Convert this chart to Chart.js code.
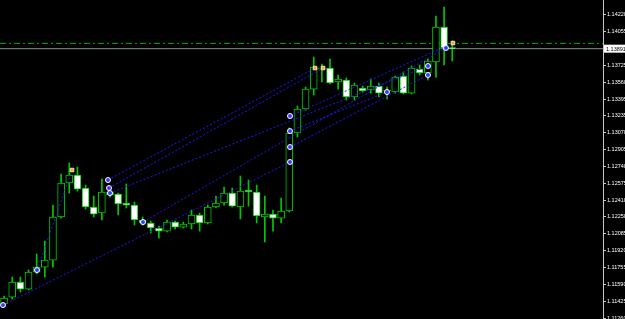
<!DOCTYPE html>
<html>
<head>
<meta charset="utf-8">
<script src="https://cdn.jsdelivr.net/npm/chart.js@4.4.0/dist/chart.umd.min.js"></script>
<style>
    html, body { margin: 0; padding: 0; background: #000; }
    #contenedor { width: 625px; height: 319px; }
</style>
</head>
<body>
<div id="contenedor"><canvas id="graficoVelas"></canvas></div>
<script>
// velas (una por barra, de izquierda a derecha)
const openP = [1.11399,1.11467,1.11614,1.11545,1.11711,1.11760,1.11828,1.12248,1.12580,1.12658,1.12531,1.12346,1.12287,1.12492,1.12473,1.12385,1.12365,1.12219,1.12190,1.12141,1.12111,1.12199,1.12150,1.12180,1.12268,1.12190,1.12346,1.12385,1.12482,1.12346,1.12512,1.12492,1.12248,1.12277,1.12238,1.12307,1.13068,1.13302,1.13497,1.13693,1.13702,1.13566,1.13585,1.13419,1.13507,1.13488,1.13527,1.13478,1.13468,1.13624,1.13458,1.13693,1.13654,1.13761,1.14102,1.13898];
const highP = [1.11477,1.11662,1.11662,1.11731,1.11887,1.12014,1.12365,1.12668,1.12775,1.12736,1.12560,1.12453,1.12619,1.12512,1.12482,1.12570,1.12394,1.12248,1.12209,1.12160,1.12219,1.12209,1.12199,1.12316,1.12287,1.12365,1.12453,1.12541,1.12531,1.12648,1.12609,1.12560,1.12453,1.12316,1.12434,1.13117,1.13331,1.13517,1.13810,1.13741,1.13790,1.13634,1.13605,1.13556,1.13527,1.13595,1.13556,1.13517,1.13624,1.13663,1.13722,1.13732,1.13790,1.14210,1.14298,1.13966];
const lowP = [1.11370,1.11448,1.11516,1.11536,1.11692,1.11662,1.11760,1.12238,1.12482,1.12502,1.12326,1.12248,1.12219,1.12443,1.12268,1.12336,1.12170,1.12170,1.12092,1.12043,1.12102,1.12131,1.12141,1.12131,1.12111,1.12180,1.12336,1.12365,1.12346,1.12229,1.12355,1.12190,1.12004,1.12111,1.12190,1.12297,1.13029,1.13292,1.13439,1.13566,1.13546,1.13497,1.13390,1.13390,1.13468,1.13458,1.13419,1.13400,1.13458,1.13449,1.13449,1.13634,1.13585,1.13614,1.13732,1.13771];
const closeP = [1.11458,1.11614,1.11545,1.11711,1.11760,1.11828,1.12248,1.12580,1.12658,1.12521,1.12346,1.12277,1.12492,1.12463,1.12375,1.12365,1.12219,1.12190,1.12141,1.12111,1.12199,1.12150,1.12180,1.12268,1.12190,1.12346,1.12385,1.12482,1.12355,1.12502,1.12492,1.12258,1.12277,1.12238,1.12307,1.13068,1.13302,1.13497,1.13712,1.13702,1.13556,1.13595,1.13419,1.13536,1.13478,1.13527,1.13458,1.13488,1.13614,1.13458,1.13702,1.13654,1.13771,1.14102,1.13898,1.13891];

// eje de precios
const tickValues = [1.14220,1.14055,1.13725,1.13560,1.13395,1.13235,1.13070,1.12905,1.12740,1.12575,1.12410,1.12250,1.12085,1.11920,1.11755,1.11590,1.11425,1.11260];
const tickLabels = ['1.14220','1.14055','1.13725','1.13560','1.13395','1.13235','1.13070','1.12905','1.12740','1.12575','1.12410','1.12250','1.12085','1.11920','1.11755','1.11590','1.11425','1.11260'];
const lastPrice = 1.13891;
const askPrice = 1.13943;

// lineas de operaciones: apertura y cierre (indice de barra, precio)
const tradeOpenIdx    = [-0.13, 4.04, 12.75, 12.88, 13.0, 17.05, 35.09, 35.09, 35.09];
const tradeOpenPrice  = [1.11389, 1.11731, 1.12609, 1.12531, 1.12482, 1.12199, 1.13234, 1.13087, 1.12931];
const tradeCloseIdx   = [35.09, 8.34, 38.16, 39.14, 52.02, 54.23, 55.09, 46.99, 52.02];
const tradeClosePrice = [1.12785, 1.12707, 1.13702, 1.13702, 1.13722, 1.13898, 1.13946, 1.13468, 1.13634];
const tradeCloseOrange = [false, true, true, true, false, false, true, false, false];

const verde = '#00c800';
const nBarras = 74;

const datasets = [];

datasets.push({
    type: 'bar',
    data: openP.map((o, i) => ({ x: i, y: [lowP[i], highP[i]] })),
    backgroundColor: verde,
    barThickness: 1,
    grouped: false,
    order: 3
});

datasets.push({
    type: 'bar',
    data: openP.map((o, i) => ({ x: i, y: [openP[i], closeP[i]] })),
    backgroundColor: openP.map((o, i) => closeP[i] > o ? '#000000' : '#ffffff'),
    borderColor: verde,
    borderWidth: 1,
    borderSkipped: false,
    barThickness: 7,
    minBarLength: 1,
    grouped: false,
    order: 2
});

for (let i = 0; i < tradeOpenIdx.length; i++) {
    const cierre = tradeCloseOrange[i] ? '#ffa040' : '#3a3aff';
    datasets.push({
        type: 'line',
        data: [
            { x: tradeOpenIdx[i], y: tradeOpenPrice[i] },
            { x: tradeCloseIdx[i], y: tradeClosePrice[i] }
        ],
        borderColor: '#1a1aff',
        borderWidth: 1,
        borderDash: [2, 2],
        pointRadius: 2.5,
        pointStyle: ['circle', tradeCloseOrange[i] ? 'rect' : 'circle'],
        pointBackgroundColor: ['#3a3aff', cierre],
        pointBorderColor: ['#ffffff', tradeCloseOrange[i] ? '#ffe0b0' : '#ffffff'],
        pointBorderWidth: 1,
        clip: false,
        order: 1
    });
}

// linea ask (verde) y precio actual (gris)
datasets.push({
    type: 'line',
    data: [{ x: -0.5, y: askPrice }, { x: nBarras - 0.5, y: askPrice }],
    borderColor: '#00b000',
    borderWidth: 1,
    borderDash: [6, 3, 2, 3],
    pointRadius: 0,
    order: 4
});
datasets.push({
    type: 'line',
    data: [{ x: -0.5, y: lastPrice }, { x: nBarras - 0.5, y: lastPrice }],
    borderColor: '#8c8c8c',
    borderWidth: 1,
    pointRadius: 0,
    order: 4
});

const etiquetaPrecio = {
    id: 'etiquetaPrecio',
    afterDraw(chart) {
        const ctx = chart.ctx;
        const y = chart.scales.y.getPixelForValue(lastPrice);
        const x = chart.chartArea.right + 1;
        ctx.save();
        ctx.fillStyle = '#ffffff';
        ctx.fillRect(x, y - 4, 625 - x, 8);
        ctx.fillStyle = '#000000';
        ctx.font = '5.5px "Liberation Sans"';
        ctx.textBaseline = 'middle';
        ctx.fillText(lastPrice.toFixed(5), x + 2, y + 0.5);
        ctx.restore();
    }
};

new Chart(document.getElementById('graficoVelas'), {
    data: { datasets: datasets },
    options: {
        responsive: true,
        maintainAspectRatio: false,
        animation: false,
        layout: { padding: 0, autoPadding: false },
        plugins: {
            legend: { display: false },
            tooltip: { enabled: false }
        },
        scales: {
            x: {
                type: 'linear',
                min: -0.5,
                max: nBarras - 0.5,
                offset: false,
                display: false
            },
            y: {
                position: 'right',
                min: 1.11253,
                max: 1.14366,
                grid: { drawOnChartArea: false, drawTicks: true, tickLength: 3, color: '#c8c8c8' },
                border: { display: true, color: '#c8c8c8', width: 1 },
                ticks: {
                    color: '#ffffff',
                    padding: 1,
                    font: { family: '"Liberation Sans"', size: 5.5 },
                    callback: (v, i) => tickLabels[i]
                },
                afterBuildTicks: (scale) => {
                    scale.ticks = tickValues.map(v => ({ value: v }));
                },
                afterFit: (scale) => {
                    scale.width = 22;
                    scale.paddingTop = 0;
                    scale.paddingBottom = 0;
                }
            }
        }
    },
    plugins: [etiquetaPrecio]
});
</script>
</body>
</html>
